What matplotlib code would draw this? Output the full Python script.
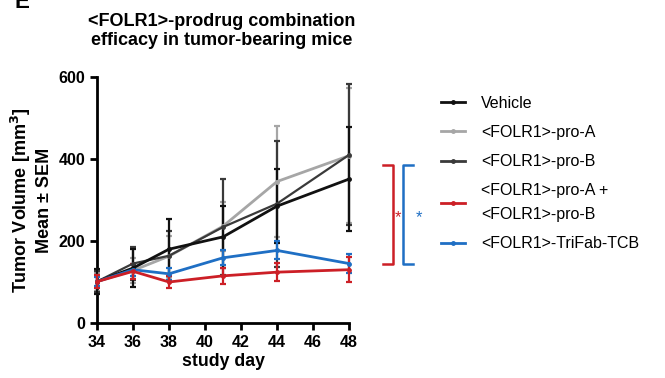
import matplotlib.pyplot as plt
from matplotlib.lines import Line2D

plt.rcParams['font.family'] = ['Liberation Sans', 'DejaVu Sans']

days = [34, 36, 38, 41, 44, 48]

vehicle = [101, 134, 180, 210, 285, 351]
vehicle_err = [30, 47, 74, 76, 90, 126]

pro_a = [101, 128, 163, 236, 345, 408]
pro_a_err = [22, 30, 50, 60, 135, 165]

pro_b = [101, 145, 164, 234, 291, 410]
pro_b_err = [25, 40, 60, 118, 154, 172]

combo = [101, 126, 100, 115, 124, 130]
combo_err = [15, 18, 15, 20, 22, 30]

trifab = [101, 130, 120, 159, 177, 145]
trifab_err = [10, 15, 14, 18, 22, 23]

labels = ["Vehicle", "<FOLR1>-pro-A", "<FOLR1>-pro-B",
          "<FOLR1>-pro-A +\n<FOLR1>-pro-B", "<FOLR1>-TriFab-TCB"]
colors = ["#111111", "#a6a6a6", "#3a3a3a", "#cc1f26", "#1f6fc4"]

fig = plt.figure(figsize=(6.65, 3.78), dpi=100)
ax = fig.add_axes([97 / 665, 1 - 323 / 378, 252 / 665, 246 / 378])

series = [(pro_a, pro_a_err), (pro_b, pro_b_err), (vehicle, vehicle_err),
          (trifab, trifab_err), (combo, combo_err)]
order = [1, 2, 0, 4, 3]
for (vals, err), i in zip(series, order):
    ax.errorbar(days, vals, yerr=err, color=colors[i], lw=2 if i != 2 else 1.6,
                marker='o', ms=2.5, capsize=2.5, elinewidth=1.6, capthick=1.6,
                clip_on=False, zorder=3)

ax.set_xlim(34, 48)
ax.set_ylim(0, 600)
ax.set_xticks(range(34, 49, 2))
ax.set_yticks([0, 200, 400, 600])
for s in ['top', 'right']:
    ax.spines[s].set_visible(False)
for s in ['left', 'bottom']:
    ax.spines[s].set_linewidth(2)
ax.tick_params(width=2, length=5, labelsize=11.5)
for t in ax.get_xticklabels() + ax.get_yticklabels():
    t.set_fontweight('bold')

ax.set_xlabel("study day", fontsize=12.8, fontweight='bold', labelpad=2)
ax.set_ylabel("Tumor Volume [mm$^\\mathbf{3}$]\nMean ± SEM", fontsize=13,
              fontweight='bold', labelpad=4)

fig.text(222 / 665, 1 - 31 / 378,
         "<FOLR1>-prodrug combination\nefficacy in tumor-bearing mice",
         ha='center', va='center', fontsize=13, fontweight='bold', linespacing=1.2)
fig.text(15 / 665, 1 + 8 / 378, "E", fontsize=16, fontweight='bold', va='top')

# legend
handles = [Line2D([0], [0], color=c, lw=2, marker='o', ms=2.5) for c in colors]
leg = fig.legend(handles, labels, loc='upper left', bbox_to_anchor=(433 / 665, 1 - 88 / 378),
                 frameon=False, fontsize=11.5, handlelength=1.5, handletextpad=1.0,
                 labelspacing=0.88, borderpad=0)
for t in leg.get_texts():
    t.set_linespacing(1.75)

# significance brackets
red, blue = colors[3], colors[4]
fig.add_artist(Line2D([383 / 665, 393 / 665, 393 / 665, 383 / 665],
                      [1 - 165 / 378, 1 - 165 / 378, 1 - 264 / 378, 1 - 264 / 378],
                      color=red, lw=1.8))
fig.add_artist(Line2D([413 / 665, 403 / 665, 403 / 665, 413 / 665],
                      [1 - 165 / 378, 1 - 165 / 378, 1 - 264 / 378, 1 - 264 / 378],
                      color=blue, lw=1.8))
fig.text(398 / 665, 1 - 218 / 378, "*", color=red, fontsize=12, ha='center', va='center')
fig.text(419 / 665, 1 - 218 / 378, "*", color=blue, fontsize=12, ha='center', va='center')

fig.savefig("out.png", dpi=100)
